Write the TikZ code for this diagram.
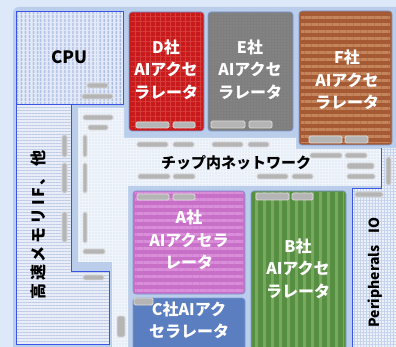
\documentclass[tikz,border=0pt]{standalone}
\usepackage{fontspec}
\setmainfont{Noto Sans CJK JP}
\usetikzlibrary{patterns.meta}
\definecolor{bg}{HTML}{DDE9F8}
\definecolor{subst}{HTML}{BACDEA}
\definecolor{netfill}{HTML}{F0F4FB}
\definecolor{netdots}{HTML}{CCD7ED}
\definecolor{cpufill}{HTML}{E4EAF7}
\definecolor{cpuline}{HTML}{A8BAE4}
\definecolor{memfill}{HTML}{E8EDF7}
\definecolor{memline}{HTML}{BECBE7}
\definecolor{edgeblue}{HTML}{3A55E6}
\definecolor{blockline}{HTML}{7C9AD4}
\definecolor{Dred}{HTML}{C81A1A}
\definecolor{Dpat}{HTML}{D73C3C}
\definecolor{Egray}{HTML}{7E7E7E}
\definecolor{Epat}{HTML}{959595}
\definecolor{Fbrown}{HTML}{A55A34}
\definecolor{Fpat}{HTML}{C4845C}
\definecolor{Apink}{HTML}{C870C8}
\definecolor{Apat}{HTML}{DA8EDA}
\definecolor{Bgreen}{HTML}{568E42}
\definecolor{Bpat}{HTML}{78A95E}
\definecolor{Cblue}{HTML}{5B7EC1}
\definecolor{IOfill}{HTML}{EBF0F9}
\definecolor{IOline}{HTML}{C5D2EC}
\definecolor{barfill}{HTML}{B5B5B5}
\definecolor{barline}{HTML}{DADADA}
\begin{document}
\begin{tikzpicture}[x=1pt,y=-1pt,
  gbar/.style={fill=barfill,draw=barline,line width=0.8pt,rounded corners=1.5pt},
  blk/.style={draw=blockline,line width=0.7pt,rounded corners=3pt},
  wtxt/.style={text=white,font=\fontsize{16}{22.5}\selectfont\bfseries,align=center,inner sep=0pt},
  btxt/.style={text=black,font=\fontsize{15}{18}\selectfont\bfseries,inner sep=0pt}]
\useasboundingbox (0,0) rectangle (396,347);
\clip (0,0) rectangle (396,347);
\fill[bg] (0,0) rectangle (396,347);
\fill[subst,rounded corners=6pt] (13,7) rectangle (410,360);
% network region
\fill[netfill] (78,108) -- (124,108) -- (124,138) -- (296,138) -- (296,149) -- (382,149) -- (382,186) -- (128,186) -- (128,350) -- (112,350) -- (112,262) -- (78,262) -- cycle;
\fill[pattern={Dots[distance=3pt,radius=0.55pt]},pattern color=netdots] (78,108) -- (124,108) -- (124,138) -- (296,138) -- (296,149) -- (382,149) -- (382,186) -- (128,186) -- (128,350) -- (112,350) -- (112,262) -- (78,262) -- cycle;
% IO region
\fill[IOfill] (381,148) -- (400,148) -- (400,350) -- (352,350) -- (352,189) -- (381,189) -- cycle;
\fill[pattern={Hatch[distance=3pt,angle=0,line width=0.5pt]},pattern color=IOline] (381,148) -- (400,148) -- (400,350) -- (352,350) -- (352,189) -- (381,189) -- cycle;
\draw[edgeblue,line width=1pt] (381,148) -- (381,189) -- (352,189) -- (352,350);
% CPU
\fill[cpufill] (16,12) rectangle (123,105);
\fill[pattern={Lines[distance=4pt,angle=90,line width=1.6pt]},pattern color=cpuline] (16,12) rectangle (123,105);
\draw[edgeblue,line width=1pt] (16,12) rectangle (123,105);
% memory IF
\fill[memfill] (16,105) -- (71,105) -- (71,272) -- (109,272) -- (109,344) -- (16,344) -- cycle;
\fill[pattern={Lines[distance=3pt,angle=0,line width=0.8pt]},pattern color=memline] (16,105) -- (71,105) -- (71,272) -- (109,272) -- (109,344) -- (16,344) -- cycle;
\draw[edgeblue,line width=1pt] (16,105) -- (71,105) -- (71,272) -- (109,272) -- (109,344) -- (16,344) -- cycle;
% D
\fill[Dred,rounded corners=3pt] (129,12) rectangle (204,131);
\fill[pattern={Hatch[distance=5pt,angle=0,line width=1pt]},pattern color=Dpat] (131,14) rectangle (202,129);
\draw[blk] (129,12) rectangle (204,131);
% E
\fill[Egray,rounded corners=3pt] (208,12) rectangle (293,131);
\fill[pattern={Dots[distance=3pt,radius=0.7pt]},pattern color=Epat] (210,14) rectangle (291,129);
\draw[blk] (208,12) rectangle (293,131);
% F
\fill[Fbrown,rounded corners=3pt] (299,11) rectangle (392,145);
\fill[pattern={Lines[distance=7pt,angle=0,line width=3pt]},pattern color=Fpat] (301,13) rectangle (390,143);
\draw[blk] (299,11) rectangle (392,145);
% A
\fill[Apink,rounded corners=3pt] (133,191) rectangle (245,294);
\fill[pattern={Lines[distance=7pt,angle=0,line width=3pt]},pattern color=Apat] (135,193) rectangle (243,292);
\draw[blk] (133,191) rectangle (245,294);
% B
\fill[Bgreen,rounded corners=3pt] (251,191) rectangle (346,352);
\fill[pattern={Lines[distance=8pt,angle=90,line width=3pt]},pattern color=Bpat] (253,193) rectangle (344,350);
\draw[blk] (251,191) rectangle (346,352);
% C
\fill[Cblue,rounded corners=3pt] (133,298) rectangle (245,352);
\draw[blk] (133,298) rectangle (245,352);
% gray bars
\foreach \xa/\ya/\xb/\yb in {
  87/83/108/88, 82/94/113/99,
  136/122/169/128, 173/122/195/128,
  211/121/245/128, 249/121/272/128,
  309/136/342/143, 345/136/368/143,
  83/115/113/120, 88/125/108/130,
  137/142/168/147, 173/142/194/147,
  212/142/243/147, 248/142/269/147,
  310/153/342/158, 345/153/367/158, 347/163/374/169,
  138/174/170/179, 173/174/195/179, 257/174/288/179, 292/174/313/179, 347/174/375/179,
  62/135/67/157, 62/163/67/193, 62/212/67/242,
  83/135/87/157, 83/163/87/193, 83/212/87/243,
  83/249/105/254, 83/275/104/280,
  117/316/125/337,
  137/194/169/200, 173/194/195/200,
  256/193/289/200, 292/193/313/200,
  134/298/153/305,
  355/192/383/197, 386/157/391/185}
  \draw[gbar] (\xa,\ya) rectangle (\xb,\yb);
% texts
\node[btxt,font=\fontsize{17}{20}\selectfont\bfseries] (cpu) at (69,57) {CPU};
\node[wtxt] (d) at (166,69.5) {D社\\AIアクセ\\ラレータ};
\node[wtxt] (e) at (250,69.5) {E社\\AIアクセ\\ラレータ};
\node[wtxt] (f) at (347,80) {F社\\AIアクセ\\ラレータ};
\node[btxt] (net) at (236,163) {チップ内ネットワーク};
\node[wtxt] (a) at (189,240) {A社\\AIアクセラ\\レータ};
\node[wtxt] (b) at (298,268.5) {B社\\AIアクセ\\ラレータ};
\node[wtxt] (c) at (189,320.5) {C社AIアク\\セラレータ};
\node[btxt,rotate=90,font=\fontsize{16}{18}\selectfont\bfseries\addfontfeatures{LetterSpace=17}] (mem) at (38,225) {高速メモリIF、他};
\node[btxt,rotate=90,font=\fontsize{14}{16}\selectfont\bfseries] (io) at (375.5,272.5) {Peripherals\hspace{12pt}IO};
\end{tikzpicture}
\end{document}
